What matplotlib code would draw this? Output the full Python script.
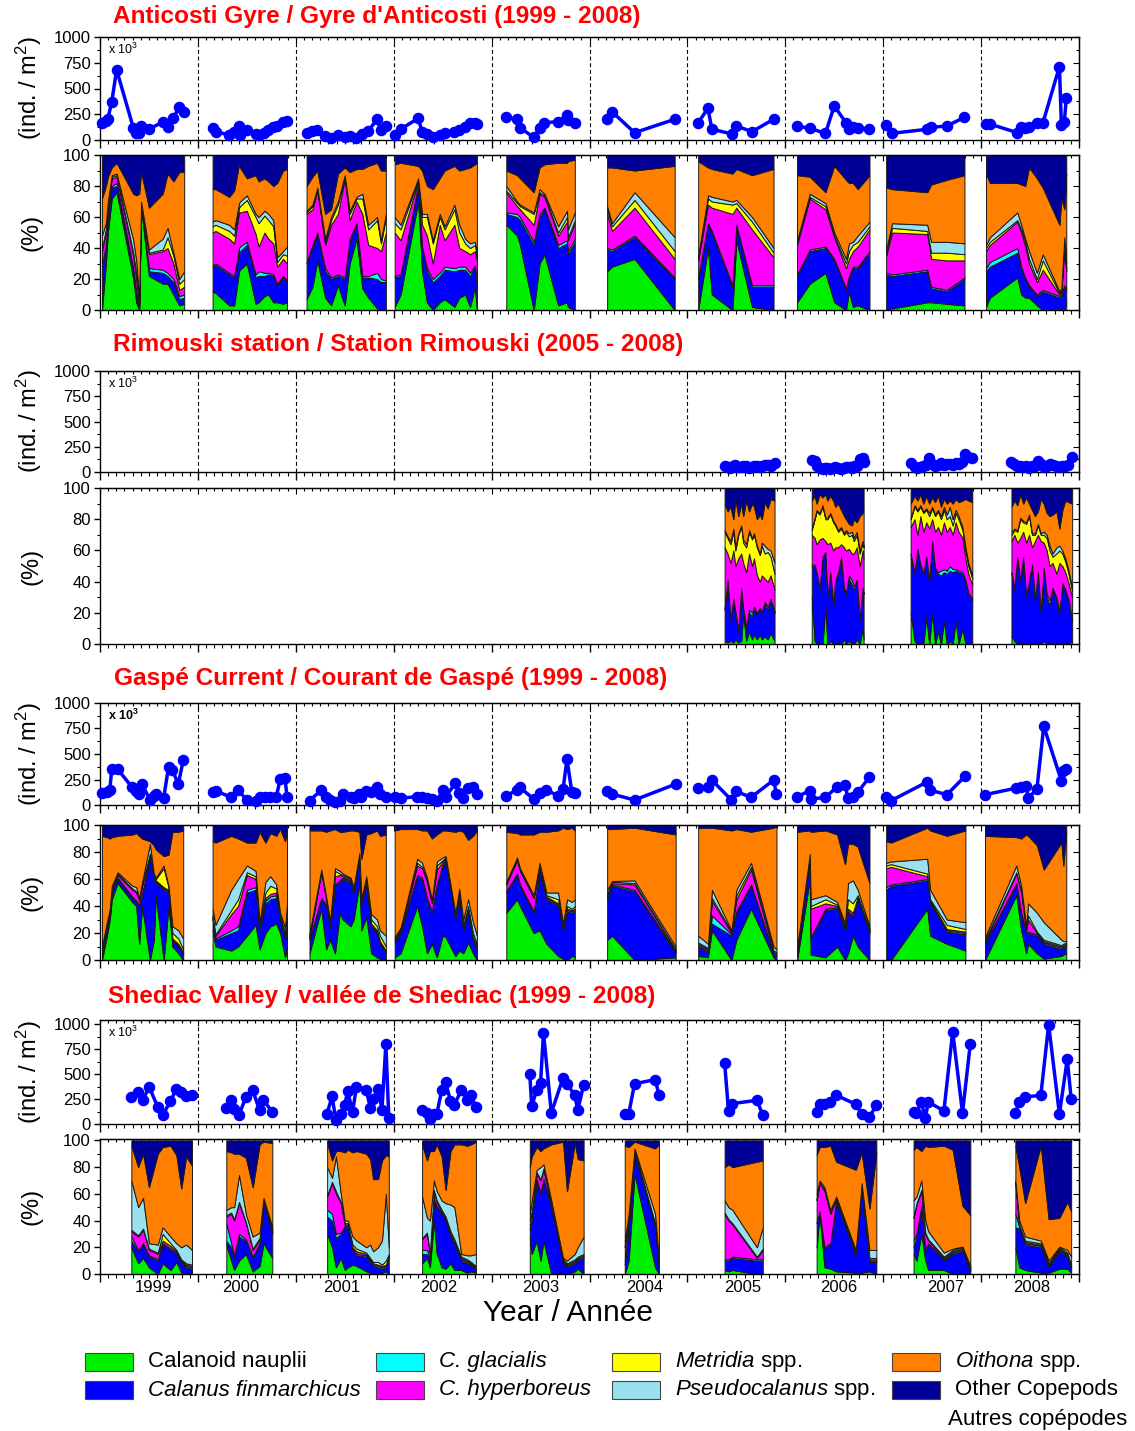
import numpy as np
import matplotlib
matplotlib.use("Agg")
import matplotlib.pyplot as plt
from matplotlib.patches import Rectangle
from matplotlib.ticker import MultipleLocator, FixedLocator

plt.rcParams['font.family'] = ['Liberation Sans', 'DejaVu Sans']
plt.rcParams['mathtext.fontset'] = 'custom'
plt.rcParams['mathtext.rm'] = 'Liberation Sans'
plt.rcParams['mathtext.it'] = 'Liberation Sans:italic'
plt.rcParams['mathtext.bf'] = 'Liberation Sans:bold'

# ---------------------------------------------------------------- groups
GROUP_LABELS = ["Calanoid nauplii", "Calanus finmarchicus", "C. glacialis",
                "C. hyperboreus", "Metridia spp.", "Pseudocalanus spp.",
                "Oithona spp.", "Other Copepods"]
GROUP_COLORS = ["#00ee00", "#0000ff", "#00ffff", "#ff00ff", "#ffff00",
                "#99e1ee", "#ff8000", "#000096"]

YEAR_LABELS = ["1999", "2000", "2001", "2002", "2003", "2004", "2005",
               "2006", "2007", "2008"]
YEAR_LABEL_POS = [1999.55, 2000.44, 2001.47, 2002.46, 2003.50, 2004.56,
                  2005.56, 2006.55, 2007.64, 2008.52]

# Composition rows hold cumulative % tops of the first seven groups
# (nauplii, C. fin, C. glac, C. hyp, Metridia, Pseudocalanus, Oithona);
# "Other copepods" fills the rest up to 100 %.

# ---------------------------------------------------------------- Anticosti
ANT_DATES = [
    [1999.02, 1999.06, 1999.08, 1999.12, 1999.17, 1999.34, 1999.37, 1999.40, 1999.42, 1999.50, 1999.64, 1999.69, 1999.75, 1999.81, 1999.86],
    [2000.15, 2000.18, 2000.32, 2000.37, 2000.42, 2000.43, 2000.50, 2000.59, 2000.62, 2000.68, 2000.72, 2000.77, 2000.81, 2000.87, 2000.91],
    [2001.11, 2001.17, 2001.22, 2001.30, 2001.36, 2001.43, 2001.50, 2001.55, 2001.62, 2001.68, 2001.74, 2001.83, 2001.87, 2001.92],
    [2002.01, 2002.07, 2002.25, 2002.29, 2002.34, 2002.40, 2002.47, 2002.52, 2002.62, 2002.67, 2002.73, 2002.78, 2002.83, 2002.85],
    [2003.15, 2003.26, 2003.29, 2003.43, 2003.49, 2003.54, 2003.68, 2003.77, 2003.78, 2003.85],
    [2004.18, 2004.23, 2004.46, 2004.87],
    [2005.11, 2005.21, 2005.25, 2005.46, 2005.50, 2005.66, 2005.88],
    [2006.12, 2006.25, 2006.41, 2006.50, 2006.62, 2006.65, 2006.69, 2006.74, 2006.86],
    [2007.03, 2007.09, 2007.45, 2007.49, 2007.65, 2007.83],
    [2008.05, 2008.09, 2008.37, 2008.41, 2008.45, 2008.49, 2008.57, 2008.63, 2008.80, 2008.82, 2008.85, 2008.87],
]
ANT_ABUND = [
    [168, 187, 204, 372, 680, 120, 65, 70, 140, 105, 175, 130, 215, 320, 275],
    [113, 81, 49, 81, 136, 49, 97, 58, 49, 71, 97, 123, 136, 178, 187],
    [68, 87, 97, 39, 19, 49, 29, 39, 19, 58, 87, 201, 97, 136],
    [49, 104, 211, 81, 55, 32, 49, 65, 81, 97, 129, 162, 168, 155],
    [220, 201, 119, 26, 119, 168, 178, 243, 194, 168],
    [201, 275, 71, 201],
    [168, 308, 104, 58, 136, 81, 201],
    [136, 113, 65, 330, 168, 104, 129, 113, 104],
    [146, 65, 104, 123, 136, 220],
    [155, 155, 71, 129, 113, 129, 162, 162, 712, 146, 178, 405],
]
ANT_CUM = [
    [[0, 27, 29, 38, 40, 48, 72], [30, 40, 42, 50, 52, 56, 80], [50, 58, 60, 66, 67, 70, 86],
     [72, 79, 80, 85, 86, 87, 92], [76, 80, 82, 86, 87, 88, 95], [20, 25, 27, 35, 37, 45, 75],
     [5, 10, 12, 20, 24, 32, 74], [0, 2, 3, 5, 6, 8, 75], [66, 67, 68, 69, 69, 70, 89],
     [22, 25, 27, 36, 37, 39, 66], [17, 24, 26, 38, 39, 46, 75], [17, 22, 24, 40, 47, 53, 88],
     [10, 18, 20, 30, 35, 37, 83], [3, 7, 9, 13, 17, 20, 89], [4, 8, 10, 15, 20, 25, 89]],
    [[12, 28, 29, 50, 54, 57, 78], [11, 29, 30, 51, 55, 58, 78], [3, 23, 24, 46, 51, 55, 73],
     [3, 21, 22, 43, 48, 52, 77], [25, 37, 40, 63, 66, 69, 94], [26, 38, 41, 63, 67, 70, 92],
     [30, 42, 44, 64, 71, 74, 85], [4, 21, 23, 49, 60, 62, 87], [5, 22, 25, 41, 56, 60, 83],
     [9, 22, 24, 50, 61, 64, 85], [10, 23, 24, 46, 58, 62, 83], [5, 22, 23, 43, 54, 58, 80],
     [5, 16, 17, 28, 31, 34, 82], [4, 21, 22, 33, 36, 38, 90], [5, 18, 19, 30, 35, 41, 91]],
    [[7, 30, 31, 62, 63, 64, 80], [15, 40, 42, 65, 67, 68, 86], [32, 49, 50, 77, 78, 79, 90],
     [8, 25, 27, 42, 44, 46, 62], [3, 20, 21, 55, 58, 60, 65], [16, 22, 23, 62, 68, 70, 88],
     [3, 20, 21, 85, 86, 87, 92], [30, 45, 46, 58, 62, 64, 89], [46, 55, 56, 70, 72, 73, 91],
     [14, 21, 22, 62, 72, 75, 91], [8, 21, 22, 42, 52, 55, 93], [1, 20, 24, 40, 58, 60, 95],
     [0, 18, 20, 38, 43, 45, 90], [0, 18, 19, 50, 60, 62, 90]],
    [[2, 21, 22, 50, 56, 60, 94], [10, 22, 23, 45, 52, 55, 95], [70, 80, 81, 83, 84, 85, 93],
     [25, 40, 41, 55, 60, 62, 90], [5, 25, 27, 48, 60, 62, 80], [0, 18, 20, 30, 43, 45, 78],
     [5, 22, 24, 55, 60, 62, 85], [7, 26, 28, 45, 52, 54, 90], [2, 25, 27, 55, 65, 68, 93],
     [8, 26, 28, 40, 50, 55, 90], [10, 26, 28, 38, 43, 46, 91], [2, 22, 24, 36, 40, 43, 92],
     [15, 28, 29, 38, 42, 44, 94], [0, 16, 17, 32, 35, 37, 95]],
    [[55, 62, 63, 76, 77, 80, 90], [48, 60, 62, 67, 69, 70, 87], [42, 58, 60, 65, 67, 68, 85],
     [0, 42, 44, 55, 62, 63, 76], [30, 60, 62, 75, 76, 78, 92], [36, 65, 66, 73, 74, 75, 94],
     [3, 40, 42, 48, 50, 54, 95], [5, 43, 45, 57, 60, 64, 95], [2, 36, 38, 45, 47, 52, 96],
     [0, 44, 46, 56, 58, 63, 97]],
    [[25, 39, 40, 62, 65, 67, 92], [28, 38, 39, 51, 54, 56, 92], [33, 47, 48, 66, 71, 76, 90],
     [0, 20, 21, 33, 38, 47, 93]],
    [[0, 20, 21, 32, 33, 35, 96], [40, 55, 56, 68, 72, 74, 92], [10, 50, 51, 66, 70, 73, 91],
     [0, 15, 16, 62, 68, 70, 88], [45, 54, 55, 66, 69, 71, 91], [2, 15, 16, 52, 57, 60, 87],
     [0, 15, 16, 34, 37, 40, 91]],
    [[5, 22, 23, 42, 44, 45, 87], [17, 38, 39, 72, 73, 75, 86], [24, 40, 41, 65, 67, 69, 76],
     [5, 32, 33, 47, 48, 50, 93], [0, 13, 14, 27, 30, 33, 84], [12, 21, 22, 33, 38, 43, 82],
     [2, 27, 28, 38, 42, 44, 82], [3, 27, 28, 41, 44, 48, 78], [0, 37, 38, 52, 54, 57, 87]],
    [[0, 23, 24, 35, 37, 39, 79], [1, 22, 23, 50, 53, 56, 78], [5, 25, 26, 49, 51, 55, 76],
     [5, 14, 15, 33, 37, 44, 81], [4, 12, 13, 32, 37, 44, 84], [3, 20, 21, 32, 36, 43, 87]],
    [[2, 25, 27, 38, 40, 42, 88], [8, 28, 31, 42, 44, 47, 82], [21, 37, 40, 57, 58, 63, 82],
     [10, 26, 28, 50, 52, 55, 81], [8, 20, 21, 41, 44, 46, 80], [8, 15, 16, 30, 33, 38, 92],
     [3, 9, 10, 18, 20, 24, 85], [0, 12, 13, 26, 32, 36, 79], [1, 8, 9, 10, 11, 12, 55],
     [0, 9, 10, 12, 13, 14, 72], [0, 15, 16, 40, 42, 47, 65], [5, 13, 14, 25, 27, 30, 88]],
]

# ---------------------------------------------------------------- Rimouski
RIM_DATES = [
    [2005.38, 2005.41, 2005.44, 2005.47, 2005.49, 2005.52, 2005.55, 2005.57, 2005.60, 2005.63,
     2005.66, 2005.68, 2005.71, 2005.74, 2005.76, 2005.79, 2005.82, 2005.85, 2005.89],
    [2006.27, 2006.30, 2006.32, 2006.35, 2006.38, 2006.41, 2006.43, 2006.46, 2006.49, 2006.51,
     2006.54, 2006.57, 2006.60, 2006.62, 2006.65, 2006.68, 2006.70, 2006.73, 2006.76, 2006.79, 2006.80],
    [2007.28, 2007.32, 2007.35, 2007.38, 2007.41, 2007.44, 2007.47, 2007.50, 2007.53, 2007.56,
     2007.59, 2007.62, 2007.65, 2007.68, 2007.71, 2007.74, 2007.77, 2007.81, 2007.84, 2007.87, 2007.91],
    [2008.31, 2008.34, 2008.37, 2008.40, 2008.43, 2008.46, 2008.49, 2008.52, 2008.55, 2008.58,
     2008.61, 2008.64, 2008.67, 2008.70, 2008.73, 2008.77, 2008.80, 2008.83, 2008.86, 2008.89, 2008.93],
]
RIM_ABUND = [
    [55, 45, 40, 55, 65, 50, 45, 60, 55, 40, 50, 55, 60, 50, 55, 65, 70, 60, 85],
    [120, 110, 60, 40, 30, 35, 40, 30, 35, 45, 40, 30, 35, 50, 45, 40, 55, 60, 130, 140, 100],
    [90, 50, 40, 45, 60, 70, 140, 80, 60, 70, 90, 65, 75, 80, 70, 90, 80, 95, 180, 150, 140],
    [100, 80, 60, 55, 50, 60, 40, 55, 60, 110, 80, 50, 60, 75, 65, 60, 50, 55, 60, 70, 150],
]
RIM_CUM = [
    [[2, 22, 23, 62, 72, 73, 90], [1, 40, 41, 58, 68, 69, 85], [2, 15, 16, 52, 64, 66, 88],
     [1, 28, 29, 60, 72, 74, 80], [3, 20, 21, 50, 60, 62, 93], [1, 8, 9, 55, 70, 71, 82],
     [2, 35, 36, 58, 75, 76, 90], [20, 22, 23, 52, 65, 67, 82], [2, 10, 11, 46, 62, 64, 92],
     [8, 20, 22, 58, 72, 73, 85], [3, 18, 20, 50, 67, 68, 90], [6, 22, 24, 55, 70, 71, 88],
     [3, 19, 20, 44, 62, 63, 80], [6, 22, 23, 40, 57, 58, 83], [3, 20, 21, 44, 63, 65, 80],
     [5, 26, 27, 42, 58, 63, 91], [3, 22, 24, 40, 59, 61, 87], [7, 28, 29, 44, 56, 60, 93],
     [2, 20, 21, 35, 45, 52, 92]],
    [[30, 50, 51, 70, 73, 74, 92], [2, 50, 51, 68, 80, 81, 95], [0, 45, 46, 64, 85, 86, 90],
     [0, 35, 36, 67, 83, 84, 96], [0, 55, 56, 68, 88, 89, 94], [25, 58, 59, 66, 80, 81, 96],
     [0, 30, 31, 64, 80, 81, 92], [2, 45, 46, 65, 83, 84, 95], [0, 25, 26, 60, 78, 79, 92],
     [1, 40, 41, 62, 76, 77, 88], [0, 45, 46, 62, 72, 73, 90], [0, 55, 56, 64, 74, 75, 86],
     [3, 35, 36, 62, 70, 71, 82], [0, 32, 33, 60, 72, 73, 80], [2, 42, 44, 61, 69, 71, 77],
     [0, 38, 41, 58, 70, 72, 76], [0, 35, 37, 58, 66, 68, 80], [3, 40, 41, 62, 70, 72, 78],
     [0, 15, 16, 50, 58, 60, 82], [10, 35, 36, 60, 65, 66, 84], [3, 32, 33, 55, 62, 63, 85]],
    [[20, 55, 58, 75, 80, 81, 90], [2, 45, 46, 80, 88, 89, 95], [0, 60, 61, 70, 85, 86, 92],
     [0, 50, 51, 82, 88, 89, 96], [0, 45, 46, 72, 84, 85, 90], [18, 55, 56, 78, 86, 87, 95],
     [0, 40, 41, 74, 82, 84, 90], [20, 65, 66, 80, 87, 88, 94], [0, 48, 49, 72, 82, 83, 91],
     [8, 45, 46, 75, 85, 86, 95], [0, 44, 47, 70, 80, 82, 88], [15, 46, 48, 78, 86, 88, 93],
     [0, 45, 47, 72, 80, 83, 90], [2, 47, 50, 75, 82, 88, 92], [0, 46, 48, 70, 76, 80, 90],
     [15, 47, 48, 78, 84, 86, 93], [0, 46, 47, 72, 80, 82, 91], [10, 45, 46, 68, 73, 75, 92],
     [0, 40, 41, 55, 60, 62, 93], [0, 32, 33, 45, 50, 52, 92], [0, 28, 29, 38, 42, 44, 91]],
    [[5, 45, 46, 66, 70, 72, 88], [2, 35, 36, 70, 73, 74, 92], [0, 55, 56, 65, 72, 73, 89],
     [1, 40, 41, 68, 80, 81, 96], [0, 55, 56, 72, 78, 79, 90], [0, 30, 31, 65, 77, 78, 94],
     [1, 40, 41, 70, 82, 83, 90], [0, 50, 51, 62, 70, 71, 86], [0, 28, 29, 66, 70, 71, 82],
     [1, 45, 46, 70, 76, 77, 85], [0, 20, 21, 66, 70, 71, 93], [2, 48, 49, 65, 70, 72, 90],
     [0, 30, 32, 60, 68, 70, 84], [1, 25, 28, 50, 60, 63, 82], [0, 35, 36, 52, 56, 58, 83],
     [0, 28, 30, 45, 58, 62, 85], [1, 20, 21, 52, 60, 63, 74], [0, 38, 39, 50, 58, 60, 86],
     [1, 34, 35, 46, 53, 55, 92], [0, 28, 29, 40, 46, 48, 91], [2, 15, 16, 30, 34, 36, 90]],
]

# ---------------------------------------------------------------- Gaspé
GAS_DATES = [
    [1999.02, 1999.07, 1999.10, 1999.12, 1999.18, 1999.33, 1999.37, 1999.40, 1999.43, 1999.51,
     1999.55, 1999.57, 1999.65, 1999.70, 1999.74, 1999.80, 1999.85],
    [2000.15, 2000.18, 2000.34, 2000.41, 2000.50, 2000.59, 2000.63, 2000.69, 2000.74, 2000.80,
     2000.84, 2000.89, 2000.91],
    [2001.14, 2001.26, 2001.31, 2001.35, 2001.40, 2001.45, 2001.48, 2001.56, 2001.59, 2001.65,
     2001.67, 2001.72, 2001.77, 2001.83, 2001.86, 2001.92],
    [2002.01, 2002.07, 2002.24, 2002.29, 2002.34, 2002.39, 2002.44, 2002.50, 2002.53, 2002.63,
     2002.67, 2002.71, 2002.76, 2002.81, 2002.85],
    [2003.15, 2003.26, 2003.29, 2003.43, 2003.49, 2003.56, 2003.68, 2003.73, 2003.77, 2003.82, 2003.85],
    [2004.18, 2004.23, 2004.46, 2004.88],
    [2005.11, 2005.21, 2005.25, 2005.45, 2005.50, 2005.65, 2005.88, 2005.91],
    [2006.12, 2006.25, 2006.26, 2006.41, 2006.53, 2006.61, 2006.64, 2006.69, 2006.74, 2006.86],
    [2007.03, 2007.08, 2007.45, 2007.48, 2007.65, 2007.84],
    [2008.04, 2008.36, 2008.41, 2008.46, 2008.48, 2008.57, 2008.64, 2008.82, 2008.84, 2008.87],
]
GAS_ABUND = [
    [114, 130, 146, 351, 351, 172, 140, 107, 205, 49, 91, 107, 65, 373, 341, 205, 438],
    [130, 140, 75, 146, 49, 42, 75, 81, 75, 75, 253, 269, 75],
    [42, 146, 81, 49, 26, 42, 107, 75, 68, 107, 81, 140, 123, 172, 107, 81],
    [75, 68, 81, 75, 68, 58, 36, 146, 81, 211, 114, 68, 166, 179, 107],
    [91, 146, 172, 58, 114, 146, 91, 156, 448, 123, 114],
    [133, 107, 49, 205],
    [162, 179, 244, 49, 133, 75, 244, 107],
    [81, 140, 58, 75, 179, 198, 68, 75, 123, 276],
    [75, 42, 227, 146, 101, 286],
    [101, 166, 172, 188, 68, 156, 773, 237, 334, 351],
]
GAS_CUM = [
    [[0, 3, 4, 8, 9, 10, 92], [18, 22, 23, 26, 27, 28, 91], [30, 33, 34, 36, 37, 38, 90],
     [45, 50, 51, 53, 54, 55, 91], [57, 60, 61, 63, 64, 65, 92], [43, 46, 47, 52, 53, 55, 93],
     [40, 43, 44, 50, 51, 54, 94], [12, 40, 41, 44, 45, 46, 92], [40, 48, 49, 55, 56, 58, 90],
     [0, 75, 76, 78, 79, 86, 88], [15, 60, 61, 62, 63, 64, 85], [48, 57, 58, 59, 60, 61, 82],
     [0, 52, 53, 54, 68, 70, 77], [40, 50, 51, 52, 54, 55, 78], [10, 14, 15, 16, 20, 25, 95],
     [5, 10, 11, 12, 16, 22, 95], [0, 4, 5, 6, 8, 16, 96]],
    [[22, 30, 31, 32, 33, 38, 88], [10, 15, 16, 18, 19, 26, 87], [7, 20, 22, 34, 37, 52, 92],
     [10, 22, 25, 40, 45, 60, 90], [18, 50, 52, 63, 65, 70, 87], [26, 52, 54, 60, 62, 66, 87],
     [8, 22, 23, 25, 26, 28, 95], [20, 42, 44, 46, 50, 58, 87], [25, 45, 47, 49, 55, 62, 94],
     [27, 46, 48, 50, 53, 56, 92], [20, 30, 31, 32, 33, 35, 97], [2, 15, 16, 18, 20, 24, 88],
     [10, 30, 31, 33, 35, 42, 97]],
    [[5, 15, 16, 17, 18, 20, 96], [38, 45, 46, 65, 66, 67, 96], [8, 40, 41, 45, 46, 47, 95],
     [15, 24, 25, 27, 28, 29, 96], [5, 55, 56, 62, 66, 68, 97], [35, 58, 59, 63, 64, 66, 95],
     [30, 60, 61, 62, 63, 64, 95], [25, 57, 58, 59, 60, 61, 96], [30, 50, 51, 52, 53, 54, 96],
     [57, 77, 78, 78.5, 79, 79.5, 95], [22, 42, 43, 44, 45, 46, 75], [32, 55, 56, 57, 60, 62, 93],
     [5, 25, 26, 27, 30, 34, 94], [2, 20, 21, 22, 25, 30, 96], [1, 12, 13, 14, 18, 22, 92],
     [0, 5, 6, 7, 10, 18, 93]],
    [[2, 13, 14, 15, 16, 17, 96], [5, 20, 21, 22, 23, 24, 97], [40, 62, 63, 70, 72, 75, 97],
     [25, 60, 61, 68, 69, 72, 96], [5, 45, 46, 58, 59, 61, 96], [12, 35, 36, 42, 43, 45, 90],
     [2, 55, 56, 67, 70, 73, 93], [18, 70, 71, 73, 74, 76, 96], [17, 73, 74, 75, 76, 77, 96],
     [3, 30, 31, 32, 33, 35, 95], [7, 48, 49, 50, 51, 53, 96], [5, 22, 23, 24, 26, 30, 95],
     [13, 35, 36, 37, 40, 45, 89], [5, 15, 16, 17, 20, 28, 92], [0, 8, 9, 10, 12, 18, 96]],
    [[35, 50, 51, 56, 57, 58, 95], [45, 63, 64, 74, 75, 76, 94], [40, 55, 56, 66, 67, 68, 93],
     [20, 35, 36, 46, 47, 48, 93], [22, 65, 66, 68, 69, 72, 95], [12, 45, 46, 47, 48, 50, 95],
     [3, 40, 41, 42, 45, 50, 96], [1, 22, 23, 24, 25, 27, 98], [0, 36, 37, 38, 40, 45, 97],
     [3, 35, 36, 37, 38, 43, 98], [2, 36, 37, 38, 40, 45, 96]],
    [[15, 45, 46, 48, 49, 52, 97], [18, 55, 56, 57, 58, 58.5, 97], [0, 51, 52, 56, 57, 59, 98],
     [2, 5, 6, 7, 8, 10, 93]],
    [[3, 10, 11, 12, 13, 18, 98], [2, 6, 7, 8, 9, 12, 98], [22, 27, 33, 44, 46, 52, 98],
     [0, 18, 19, 20, 21, 22, 96], [15, 35, 36, 45, 48, 52, 97], [38, 55, 56, 67, 69, 72, 95],
     [2, 4, 5, 6, 7, 10, 98], [0, 3, 4, 5, 6, 8, 99]],
    [[0, 5, 6, 7, 8, 9, 95], [60, 76, 77, 77.5, 78, 78.5, 96], [4, 16, 17, 38, 40, 45, 95],
     [2, 37, 38, 42, 45, 48, 96], [10, 38, 39, 40, 41, 43, 93], [0, 22, 23, 24, 25, 27, 71],
     [5, 35, 36, 38, 45, 57, 86], [18, 32, 33, 35, 42, 59, 86], [10, 45, 46, 47, 48, 52, 84],
     [0, 20, 21, 22, 23, 25, 57]],
    [[0, 52, 54, 68, 70, 72, 88], [0, 55, 56, 69, 71, 73, 87], [38, 59, 60, 62, 64, 75, 98],
     [18, 42, 43, 44, 45, 52, 96], [12, 21, 22, 23, 26, 30, 92], [7, 19, 20, 21, 23, 28, 96]],
    [[0, 12, 13, 14, 15, 17, 92], [48, 56, 57, 64, 65, 70, 91], [22, 34, 35, 50, 51, 55, 90],
     [5, 20, 21, 22, 23, 25, 93], [12, 20, 21, 30, 33, 42, 92], [5, 18, 19, 20, 21, 35, 85],
     [1, 12, 13, 14, 15, 28, 67], [3, 8, 9, 10, 11, 15, 87], [4, 9, 10, 11, 12, 14, 70],
     [5, 10, 11, 12, 13, 14, 95]],
]

# ---------------------------------------------------------------- Shediac
SHE_DATES = [
    [1999.32, 1999.39, 1999.44, 1999.50, 1999.59, 1999.64, 1999.72, 1999.78, 1999.83, 1999.88, 1999.94],
    [2000.29, 2000.34, 2000.37, 2000.42, 2000.49, 2000.56, 2000.63, 2000.67, 2000.76],
    [2001.32, 2001.37, 2001.41, 2001.46, 2001.50, 2001.53, 2001.58, 2001.62, 2001.72, 2001.76,
     2001.79, 2001.84, 2001.88, 2001.92, 2001.95],
    [2002.29, 2002.34, 2002.37, 2002.41, 2002.44, 2002.49, 2002.53, 2002.58, 2002.62, 2002.69,
     2002.75, 2002.79, 2002.84],
    [2003.39, 2003.41, 2003.46, 2003.50, 2003.53, 2003.61, 2003.73, 2003.77, 2003.85, 2003.88, 2003.94],
    [2004.36, 2004.40, 2004.46, 2004.67, 2004.71],
    [2005.38, 2005.42, 2005.46, 2005.71, 2005.77],
    [2006.32, 2006.35, 2006.40, 2006.46, 2006.52, 2006.72, 2006.78, 2006.86, 2006.93],
    [2007.31, 2007.34, 2007.39, 2007.43, 2007.46, 2007.62, 2007.71, 2007.81, 2007.89],
    [2008.35, 2008.39, 2008.45, 2008.61, 2008.69, 2008.80, 2008.88, 2008.92],
]
SHE_ABUND = [
    [270, 320, 237, 375, 171, 89, 227, 352, 320, 276, 293],
    [161, 244, 155, 89, 270, 336, 138, 237, 121],
    [105, 276, 40, 99, 188, 329, 121, 375, 342, 164, 247, 352, 145, 797, 56],
    [138, 112, 46, 105, 99, 336, 418, 231, 188, 342, 237, 287, 171],
    [500, 177, 342, 408, 912, 112, 461, 402, 287, 138, 392],
    [99, 99, 402, 444, 293],
    [615, 129, 204, 237, 89],
    [121, 204, 198, 220, 287, 198, 99, 72, 188],
    [121, 112, 220, 56, 220, 132, 921, 112, 803],
    [112, 220, 270, 287, 994, 99, 648, 253],
]
SHE_CUM = [
    [[20, 25, 28, 32, 33, 70, 96], [8, 17, 18, 28, 29, 50, 80], [12, 22, 23, 33, 34, 57, 90],
     [5, 13, 14, 18, 19, 23, 65], [0, 10, 11, 15, 16, 22, 90], [8, 22, 23, 25, 30, 35, 95],
     [3, 18, 19, 21, 23, 28, 96], [9, 15, 16, 17, 18, 23, 89], [1, 8, 9, 10, 11, 20, 64],
     [0, 5, 6, 7, 8, 22, 88], [0, 4, 5, 6, 7, 18, 81]],
    [[22, 25, 38, 43, 44, 48, 92], [10, 20, 23, 45, 46, 50, 91], [3, 12, 14, 40, 41, 50, 90],
     [10, 28, 30, 53, 54, 74, 90], [15, 25, 26, 38, 39, 45, 87], [2, 12, 13, 18, 19, 28, 65],
     [6, 22, 23, 26, 27, 31, 97], [23, 53, 54, 55, 56, 57, 99], [12, 30, 31, 32, 33, 35, 98]],
    [[30, 43, 48, 58, 59, 80, 98], [20, 40, 45, 68, 69, 72, 85], [5, 27, 30, 60, 62, 88, 92],
     [12, 30, 31, 53, 54, 60, 92], [3, 35, 36, 37, 38, 40, 91], [5, 35, 36, 37, 38, 40, 93],
     [7, 18, 19, 20, 22, 28, 91], [6, 14, 15, 17, 19, 25, 92], [2, 13, 14, 15, 16, 20, 90],
     [1, 9, 10, 11, 12, 22, 86], [0, 6, 7, 8, 9, 17, 71], [0, 5, 6, 7, 9, 20, 71],
     [1, 4, 5, 6, 7, 25, 85], [2, 5, 6, 7, 10, 60, 89], [0, 12, 13, 14, 15, 20, 88]],
    [[8, 15, 18, 26, 27, 58, 97], [12, 15, 18, 30, 31, 42, 85], [5, 10, 12, 15, 16, 40, 92],
     [40, 55, 56, 62, 63, 70, 92], [15, 50, 51, 54, 55, 62, 97], [5, 45, 46, 47, 48, 55, 88],
     [4, 40, 41, 42, 43, 53, 63], [8, 28, 29, 30, 32, 52, 92], [3, 22, 23, 24, 26, 50, 97],
     [3, 10, 11, 12, 13, 15, 97], [1, 8, 9, 10, 11, 14, 96], [2, 6, 7, 8, 9, 14, 97],
     [1, 3, 4, 5, 6, 15, 99]],
    [[28, 33, 34, 40, 41, 45, 80], [15, 40, 41, 46, 47, 55, 88], [25, 70, 71, 75, 76, 78, 95],
     [10, 60, 61, 70, 71, 80, 92], [25, 70, 71, 78, 79, 82, 94], [0, 50, 51, 52, 53, 55, 97],
     [0, 8, 9, 10, 11, 12, 99], [0, 5, 6, 7, 8, 10, 62], [2, 8, 9, 10, 11, 15, 98],
     [4, 10, 11, 12, 13, 20, 86], [0, 12, 13, 14, 15, 28, 85]],
    [[0, 7, 10, 20, 21, 25, 96], [10, 35, 36, 40, 41, 45, 95], [75, 90, 91, 92, 93, 94, 99],
     [5, 35, 36, 37, 38, 45, 94], [0, 5, 6, 7, 8, 10, 97]],
    [[3, 10, 11, 45, 46, 55, 80], [2, 10, 11, 40, 41, 50, 82], [3, 12, 13, 37, 38, 48, 80],
     [0, 10, 11, 12, 13, 20, 84], [0, 10, 11, 18, 19, 35, 85]],
    [[20, 38, 39, 55, 56, 60, 89], [45, 46, 47, 68, 69, 70, 95], [5, 19, 20, 62, 63, 65, 95],
     [4, 22, 23, 45, 46, 48, 96], [2, 54, 55, 56, 57, 58, 84], [1, 14, 15, 16, 17, 18, 78],
     [1, 64, 65, 66, 67, 68, 91], [2, 9, 10, 11, 12, 18, 49], [0, 9, 10, 11, 12, 18, 91]],
    [[15, 20, 25, 42, 43, 55, 93], [10, 28, 30, 52, 53, 58, 95], [30, 50, 51, 62, 63, 70, 92],
     [10, 18, 19, 30, 31, 40, 96], [3, 22, 23, 25, 26, 32, 95], [3, 10, 11, 12, 13, 16, 96],
     [0, 15, 16, 17, 18, 19, 93], [1, 17, 18, 19, 20, 20.5, 51], [0, 2, 3, 4, 5, 6, 44]],
    [[20, 35, 45, 68, 69, 70, 96], [5, 34, 35, 36, 37, 40, 80], [3, 22, 23, 24, 25, 28, 53],
     [1, 20, 21, 22, 23, 25, 96], [1, 5, 6, 7, 8, 10, 41], [4, 17, 18, 19, 20, 20.5, 42],
     [4, 13, 14, 15, 16, 18, 54], [1, 4, 5, 6, 7, 13, 47]],
]

TITLES = ["Anticosti Gyre / Gyre d'Anticosti (1999 - 2008)",
          "Rimouski station / Station Rimouski (2005 - 2008)",
          "Gaspé Current / Courant de Gaspé (1999 - 2008)",
          "Shediac Valley / vallée de Shediac (1999 - 2008)"]

# ---------------------------------------------------------------- layout
W, H = 1135, 1431
fig = plt.figure(figsize=(W / 100, H / 100), dpi=100)
LEFT, RIGHT = 100, 1079


def fx(x):
    return x / W


def fy(y):
    return 1 - y / H


def add_panel(top, bottom):
    return fig.add_axes([fx(LEFT), fy(bottom), (RIGHT - LEFT) / W, (bottom - top) / H])


def style_axis(ax, ymax, ymajor, yminor):
    ax.set_xlim(1999, 2009)
    ax.set_ylim(0, ymax)
    ax.xaxis.set_major_locator(FixedLocator(range(1999, 2010)))
    ax.xaxis.set_minor_locator(MultipleLocator(1 / 12))
    ax.yaxis.set_major_locator(MultipleLocator(ymajor))
    ax.yaxis.set_minor_locator(MultipleLocator(yminor))
    ax.tick_params(axis='x', which='major', direction='out', length=6, width=1, labelbottom=False)
    ax.tick_params(axis='x', which='minor', direction='out', length=3, width=0.8)
    ax.tick_params(axis='y', which='major', direction='out', length=4.5, width=1,
                   labelsize=12, pad=2)
    ax.tick_params(axis='y', which='minor', direction='out', length=2.5, width=0.8)
    for sp in ax.spines.values():
        sp.set_linewidth(1.0)
    top = ax.secondary_xaxis('top')
    top.xaxis.set_major_locator(FixedLocator(range(1999, 2010)))
    top.xaxis.set_minor_locator(MultipleLocator(1 / 12))
    top.tick_params(which='major', direction='in', length=4, labeltop=False)
    top.tick_params(which='minor', direction='in', length=2.5, width=0.8)
    right = ax.secondary_yaxis('right')
    right.yaxis.set_major_locator(MultipleLocator(ymajor))
    right.yaxis.set_minor_locator(MultipleLocator(yminor))
    right.tick_params(which='major', direction='in', length=4, labelright=False)
    right.tick_params(which='minor', direction='in', length=2.5, width=0.8)


def draw_abundance(ax, dates, abund, ymax, bold_unit=False):
    style_axis(ax, ymax, 250, 125)
    for yb in range(2000, 2009):
        ax.axvline(yb, color='k', ls=(0, (3.5, 2.5)), lw=0.8, zorder=1)
    for d, v in zip(dates, abund):
        ax.plot(d, v, '-o', color='#0000ff', lw=2.5, ms=7.3, zorder=3, clip_on=False)
    if bold_unit:
        ax.text(0.008, 0.88, r'x 10$^{\mathbf{3}}$', transform=ax.transAxes,
                fontsize=9, fontweight='bold', va='center')
    else:
        ax.text(0.008, 0.88, r'x 10$^{3}$', transform=ax.transAxes, fontsize=9, va='center')


def draw_percent(ax, dates, cum, ymax=100):
    style_axis(ax, ymax, 20, 10)
    for d, rows in zip(dates, cum):
        tops = np.maximum.accumulate(np.asarray(rows, float), axis=1)
        n = len(d)
        levels = np.column_stack([np.zeros(n), tops, np.full(n, 100.0)])
        for k in range(8):
            ax.fill_between(d, levels[:, k], levels[:, k + 1], facecolor=GROUP_COLORS[k],
                            edgecolor='#1a1a1a', lw=0.7, zorder=2)


def ylabels(top_a, bot_a, top_p, bot_p):
    fig.text(fx(29), fy((top_a + bot_a) / 2), r'(ind. / m$^2$)', rotation=90,
             ha='center', va='center', fontsize=17)
    fig.text(fx(31), fy((top_p + bot_p) / 2), '(%)', rotation=90,
             ha='center', va='center', fontsize=17)


PANELS = [
    # title y, title x, abundance top/bottom, percent top/bottom, abundance ymax, pct ymax
    (17, 113, 37, 140, 155, 310, 1000, 100),
    (345, 113, 371, 472, 488, 644, 1000, 100),
    (678, 114, 703, 805, 825, 960, 1000, 100),
    (997, 108, 1020, 1124, 1139, 1274, 1040, 101),
]
DATA = [(ANT_DATES, ANT_ABUND, ANT_CUM), (RIM_DATES, RIM_ABUND, RIM_CUM),
        (GAS_DATES, GAS_ABUND, GAS_CUM), (SHE_DATES, SHE_ABUND, SHE_CUM)]

last_ax = None
for i, (cfg, (dates, abund, cum)) in enumerate(zip(PANELS, DATA)):
    ty, tx, ta, ba, tp, bp, amax, pmax = cfg
    fig.text(fx(tx), fy(ty), TITLES[i], color='#ff0000', fontweight='bold',
             fontsize=17.6, ha='left', va='center')
    ax_a = add_panel(ta, ba)
    draw_abundance(ax_a, dates, abund, amax, bold_unit=(i == 2))
    ax_p = add_panel(tp, bp)
    draw_percent(ax_p, dates, cum, pmax)
    ylabels(ta, ba, tp, bp)
    last_ax = ax_p

# year labels under the last panel
for pos, lab in zip(YEAR_LABEL_POS, YEAR_LABELS):
    last_ax.text(pos, -0.1, lab, transform=last_ax.get_xaxis_transform(),
                 ha='center', va='center', fontsize=12)
fig.text(fx(568), fy(1313), 'Year / Année', ha='center', va='center', fontsize=21.5)

# legend
LEG_COLS = [85, 376, 612, 892]
LEG_ROWS = [1362, 1390]
LEG_TEXT = ["Calanoid nauplii", "Calanus finmarchicus", "C. glacialis", "C. hyperboreus",
            r"$\mathit{Metridia}$ spp.", r"$\mathit{Pseudocalanus}$ spp.",
            r"$\mathit{Oithona}$ spp.", "Other Copepods"]
LEG_STYLE = ["normal", "italic", "italic", "italic", "normal", "normal", "normal", "normal"]
for k in range(8):
    col, row = k // 2, k % 2
    x0 = LEG_COLS[col]
    yc = LEG_ROWS[row]
    fig.add_artist(Rectangle((fx(x0), fy(yc + 9)), 48 / W, 18 / H, transform=fig.transFigure,
                             facecolor=GROUP_COLORS[k], edgecolor='#444444', lw=0.8))
    fig.text(fx(x0 + 63), fy(yc), LEG_TEXT[k], ha='left', va='center', fontsize=16,
             fontstyle=LEG_STYLE[k])
fig.text(fx(948), fy(1419), 'Autres copépodes', ha='left', va='center', fontsize=16)

fig.savefig('out.png', dpi=100)
